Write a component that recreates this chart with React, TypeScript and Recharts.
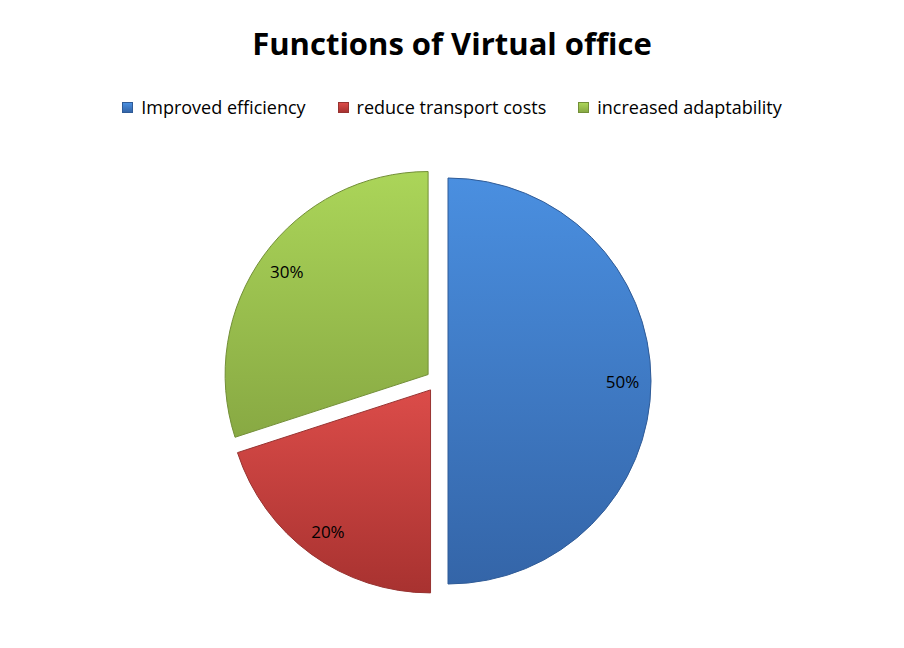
import React from 'react';
import { PieChart, Pie, Sector, Legend } from 'recharts';

const categories = ['Improved efficiency', 'reduce transport costs', 'increased adaptability'];
const shares = [50, 20, 30];
const topColors = ['#4a8fe0', '#db4c49', '#abd559'];
const bottomColors = ['#3465a8', '#a83230', '#88a943'];
const edgeColors = ['#2f5b97', '#973331', '#738f38'];

const data = categories.map((name, i) => ({ name, value: shares[i], idx: i }));

const EXPLODE = 11;
const RAD = Math.PI / 180;
const FONT = "'Open Sans', Lato, sans-serif";

const ExplodedSlice = (props: any) => {
  const { cx, cy, midAngle, payload } = props;
  const i = payload.idx;
  const dx = EXPLODE * Math.cos(-midAngle * RAD);
  const dy = EXPLODE * Math.sin(-midAngle * RAD);
  return (
    <Sector
      {...props}
      cx={cx + dx}
      cy={cy + dy}
      fill={`url(#grad${i})`}
      stroke={edgeColors[i]}
      strokeWidth={1}
    />
  );
};

const renderLabel = (props: any) => {
  const { cx, cy, midAngle, outerRadius, percent } = props;
  const r = outerRadius * 0.86 + EXPLODE;
  const x = cx + r * Math.cos(-midAngle * RAD);
  const y = cy + r * Math.sin(-midAngle * RAD);
  return (
    <text
      x={x}
      y={y}
      textAnchor="middle"
      dominantBaseline="central"
      fill="#000"
      fontSize={17}
      fontFamily={FONT}
    >
      {`${Math.round(percent * 100)}%`}
    </text>
  );
};

const renderLegend = () => (
  <div
    style={{
      display: 'flex',
      justifyContent: 'center',
      gap: 32,
      fontFamily: FONT,
      fontSize: 18,
      color: '#000',
    }}
  >
    {categories.map((c, i) => (
      <span key={c} style={{ display: 'flex', alignItems: 'center' }}>
        <span
          style={{
            display: 'inline-block',
            width: 9,
            height: 9,
            marginRight: 8,
            background: `linear-gradient(${topColors[i]}, ${bottomColors[i]})`,
            border: `1px solid ${edgeColors[i]}`,
          }}
        />
        {c}
      </span>
    ))}
  </div>
);

export default function App() {
  return (
    <div style={{ position: 'fixed', left: 0, top: 0, width: 904, height: 648, background: '#fff' }}>
      <PieChart width={904} height={648} margin={{ top: 0, right: 0, bottom: 0, left: 0 }}>
        <defs>
          {categories.map((c, i) => (
            <linearGradient key={c} id={`grad${i}`} x1="0" y1="0" x2="0" y2="1">
              <stop offset="0%" stopColor={topColors[i]} />
              <stop offset="100%" stopColor={bottomColors[i]} />
            </linearGradient>
          ))}
        </defs>
        <text
          x={452}
          y={43}
          textAnchor="middle"
          dominantBaseline="central"
          fontSize={31}
          fontWeight="bold"
          fontFamily={FONT}
          fill="#000"
        >
          Functions of Virtual office
        </text>
        <Legend
          verticalAlign="top"
          align="center"
          content={renderLegend}
          wrapperStyle={{ top: 95, left: 0, width: 904 }}
        />
        <Pie
          data={data}
          dataKey="value"
          nameKey="name"
          cx={437}
          cy={357}
          outerRadius={203}
          startAngle={90}
          endAngle={-270}
          shape={ExplodedSlice}
          label={renderLabel}
          labelLine={false}
          isAnimationActive={false}
        />
      </PieChart>
    </div>
  );
}
